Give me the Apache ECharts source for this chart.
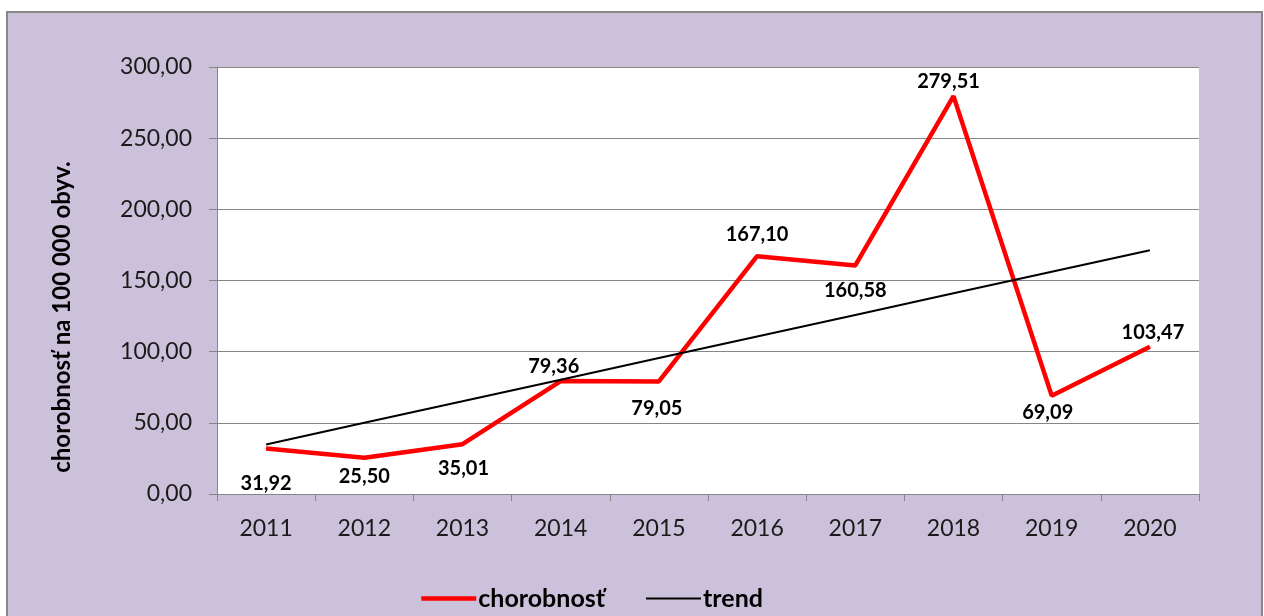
<!DOCTYPE html>
<html>
<head>
<meta charset="utf-8">
<script src="https://cdn.jsdelivr.net/npm/echarts@6/dist/echarts.min.js"></script>
<style>
html,body{margin:0;padding:0;background:#fff;}
#c{width:1264px;height:616px;}
</style>
</head>
<body>
<div id="c"></div>
<script>
var years = ['2011','2012','2013','2014','2015','2016','2017','2018','2019','2020'];
var chorobnost = [31.92, 25.50, 35.01, 79.36, 79.05, 167.10, 160.58, 279.51, 69.09, 103.47];
var trend = [34.8, 50.0, 65.1, 80.3, 95.5, 110.6, 125.8, 141.0, 156.2, 171.3];
var yTicks = [0, 50, 100, 150, 200, 250, 300];
var seriesNames = ['chorobnosť', 'trend'];
var yTitle = 'chorobnosť na 100 000 obyv.';

// label placement per point (style only)
var labelPos = ['bottom','bottom','bottom','top','bottom','top','bottom','top','bottom','top'];
var labelOff = [[0,16],[0,0],[1,6],[-7,4],[-2,9],[0,-3],[0,7],[-5,4],[-4,-2],[3,4]];

function fmt(v){ return v.toFixed(2).replace('.', ','); }

var font = 'Lato, "Open Sans", sans-serif';
var chart = echarts.init(document.getElementById('c'));
var redData = chorobnost.map(function(v, i){
  return {value: v, label: {position: labelPos[i], offset: labelOff[i]}};
});
chart.setOption({
  animation: false,
  backgroundColor: '#fff',
  graphic: [
    {type: 'rect', z: -10, shape: {x: 7, y: 12, width: 1255, height: 700},
     style: {fill: '#CCC1DA', stroke: '#868686', lineWidth: 2}},
    {type: 'text', x: 62, y: 317, rotation: Math.PI/2,
     style: {text: yTitle, font: 'bold 24px ' + font, fill: '#000',
             align: 'center', verticalAlign: 'middle'}}
  ],
  grid: {left: 217, right: 65, top: 67, bottom: 122, show: true,
         backgroundColor: '#fff', borderWidth: 0},
  legend: {
    data: [
      {name: seriesNames[0], lineStyle: {width: 4.5}},
      {name: seriesNames[1], lineStyle: {width: 2}}
    ],
    bottom: 0, left: 414, itemGap: 40,
    itemWidth: 55, itemHeight: 14,
    itemStyle: {opacity: 0},
    textStyle: {fontFamily: font, fontWeight: 'bold', fontSize: 25, color: '#000', padding: [0,0,0,-3]}
  },
  xAxis: {
    type: 'category', data: years, boundaryGap: true,
    axisLine: {lineStyle: {color: '#868686', width: 1}},
    axisTick: {show: true, length: 7, interval: 0, lineStyle: {color: '#868686'}},
    axisLabel: {fontFamily: font, fontSize: 23, color: '#1a1a1a', margin: 23, interval: 0},
    splitLine: {show: false}
  },
  yAxis: {
    type: 'value', min: yTicks[0], max: yTicks[yTicks.length-1], interval: 50,
    axisLine: {show: true, lineStyle: {color: '#868686', width: 1}},
    axisTick: {show: true, length: 8, lineStyle: {color: '#868686'}},
    axisLabel: {fontFamily: font, fontSize: 23, color: '#1a1a1a', margin: 25, formatter: fmt},
    splitLine: {show: true, lineStyle: {color: '#868686', width: 1}}
  },
  series: [
    {name: seriesNames[0], type: 'line', data: redData, symbol: 'circle', symbolSize: 1,
     color: '#FF0000', itemStyle: {color: '#FF0000'},
     lineStyle: {color: '#FF0000', width: 4.5}, z: 3,
     label: {show: true, distance: 8, formatter: function(p){ return fmt(p.value); },
             fontFamily: font, fontWeight: 'bold', fontSize: 20, color: '#000'}},
    {name: seriesNames[1], type: 'line', data: trend, symbol: 'none',
     color: '#000', lineStyle: {color: '#000', width: 2}, z: 4}
  ]
});
</script>
</body>
</html>
